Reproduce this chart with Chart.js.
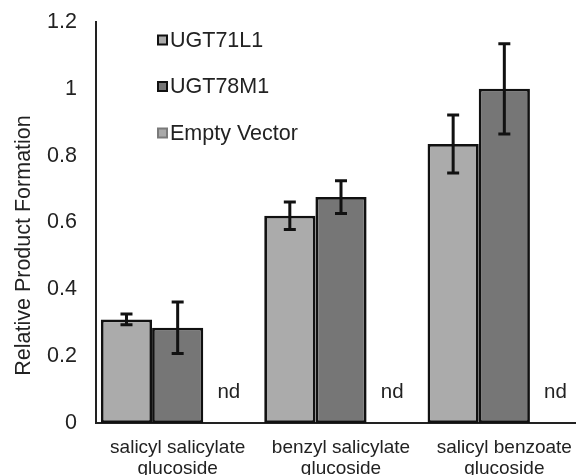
<!DOCTYPE html>
<html>
<head>
<meta charset="utf-8">
<script src="https://cdn.jsdelivr.net/npm/chart.js@4.4.1/dist/chart.umd.min.js"></script>
<style>
  html, body { margin: 0; padding: 0; background: #fff; overflow: hidden; }
  #wrap { width: 586px; height: 478px; position: relative; }
</style>
</head>
<body>
<div id="wrap"><canvas id="chart"></canvas></div>
<script>
// Chart data
const categories = [
    ['salicyl salicylate', 'glucoside'],
    ['benzyl salicylate', 'glucoside'],
    ['salicyl benzoate', 'glucoside']
];
const seriesNames = ['UGT71L1', 'UGT78M1', 'Empty Vector'];
const ugt71l1 = [0.31, 0.62, 0.835];
const ugt71l1Err = [0.016, 0.041, 0.087];
const ugt78m1 = [0.285, 0.676, 1.0];
const ugt78m1Err = [0.077, 0.049, 0.135];
const emptyVector = [0, 0, 0];
const emptyVectorNotes = ['nd', 'nd', 'nd'];
const yTitle = 'Relative Product Formation';
const yMin = 0;
const yMax = 1.2;
const yStep = 0.2;

const FONT = 'Liberation Sans, Arial, sans-serif';

// error bars drawn on top of each bar
const errorBars = {
    id: 'errorBars',
    afterDatasetsDraw(chart) {
        const ctx = chart.ctx;
        const y = chart.scales.y;
        chart.data.datasets.forEach((ds, i) => {
            if (!ds.errors) return;
            const meta = chart.getDatasetMeta(i);
            meta.data.forEach((bar, j) => {
                const v = ds.data[j];
                const e = ds.errors[j];
                const top = y.getPixelForValue(v + e);
                const bot = y.getPixelForValue(v - e);
                ctx.save();
                ctx.strokeStyle = '#111';
                ctx.lineWidth = 3;
                ctx.beginPath();
                ctx.moveTo(bar.x, top);
                ctx.lineTo(bar.x, bot);
                ctx.moveTo(bar.x - 6, top);
                ctx.lineTo(bar.x + 6, top);
                ctx.moveTo(bar.x - 6, bot);
                ctx.lineTo(bar.x + 6, bot);
                ctx.stroke();
                ctx.restore();
            });
        });
    }
};

// "nd" notes above the empty vector slots
const notes = {
    id: 'notes',
    afterDatasetsDraw(chart) {
        const ctx = chart.ctx;
        const y = chart.scales.y;
        chart.data.datasets.forEach((ds, i) => {
            if (!ds.notes) return;
            const meta = chart.getDatasetMeta(i);
            meta.data.forEach((bar, j) => {
                ctx.save();
                ctx.fillStyle = '#222';
                ctx.font = '20.5px ' + FONT;
                ctx.textAlign = 'center';
                ctx.textBaseline = 'middle';
                ctx.fillText(ds.notes[j], bar.x, y.getPixelForValue(0) - 31);
                ctx.restore();
            });
        });
    }
};

// y axis title, sits a bit below the middle of the axis like the original
const yAxisTitle = {
    id: 'yAxisTitle',
    afterDraw(chart) {
        const ctx = chart.ctx;
        const area = chart.chartArea;
        ctx.save();
        ctx.translate(24, (area.top + area.bottom) / 2 + 23);
        ctx.rotate(-Math.PI / 2);
        ctx.fillStyle = '#222';
        ctx.font = '21.5px ' + FONT;
        ctx.textAlign = 'center';
        ctx.textBaseline = 'middle';
        ctx.fillText(yTitle, 0, 0);
        ctx.restore();
    }
};

// legend placed inside the plot, top left
const insideLegend = {
    id: 'insideLegend',
    afterDraw(chart) {
        const ctx = chart.ctx;
        const area = chart.chartArea;
        const x0 = area.left + 62;
        chart.data.datasets.forEach((ds, i) => {
            const cy = area.top + 18 + i * 46.5;
            ctx.save();
            ctx.fillStyle = ds.backgroundColor;
            ctx.fillRect(x0, cy - 4.5, 9, 9);
            ctx.strokeStyle = ds.legendBorder;
            ctx.lineWidth = 2;
            ctx.strokeRect(x0, cy - 4.5, 9, 9);
            ctx.fillStyle = '#222';
            ctx.font = '21.5px ' + FONT;
            ctx.textAlign = 'left';
            ctx.textBaseline = 'middle';
            ctx.fillText(ds.label, x0 + 12, cy + 1);
            ctx.restore();
        });
    }
};

const ctx = document.getElementById('chart').getContext('2d');
new Chart(ctx, {
    type: 'bar',
    data: {
        labels: categories,
        datasets: [{
            label: seriesNames[0],
            data: ugt71l1,
            errors: ugt71l1Err,
            backgroundColor: '#ababab',
            borderColor: '#111',
            legendBorder: '#111'
        }, {
            label: seriesNames[1],
            data: ugt78m1,
            errors: ugt78m1Err,
            backgroundColor: '#767676',
            borderColor: '#111',
            legendBorder: '#111'
        }, {
            label: seriesNames[2],
            data: emptyVector,
            notes: emptyVectorNotes,
            backgroundColor: '#a9a9a9',
            borderColor: '#7a7a7a',
            legendBorder: '#7a7a7a'
        }]
    },
    options: {
        responsive: true,
        maintainAspectRatio: false,
        animation: false,
        layout: {
            padding: { left: 7, top: 22, right: 0, bottom: 0 }
        },
        datasets: {
            bar: {
                categoryPercentage: 0.94,
                barPercentage: 1.0,
                borderWidth: 2.75,
                borderSkipped: false,
                inflateAmount: 0
            }
        },
        plugins: {
            legend: { display: false },
            tooltip: { enabled: false }
        },
        scales: {
            x: {
                grid: { display: false, drawTicks: false },
                border: { display: true, color: '#222', width: 2 },
                ticks: {
                    color: '#222',
                    font: { family: FONT, size: 19, lineHeight: 1.08 },
                    padding: 15,
                    maxRotation: 0,
                    autoSkip: false
                },
                afterFit(scale) {
                    scale.height = 55;
                    scale.paddingLeft = 0;
                    scale.paddingRight = 0;
                }
            },
            y: {
                min: yMin,
                max: yMax,
                grid: { display: false, drawTicks: false },
                border: { display: true, color: '#222', width: 2 },
                ticks: {
                    stepSize: yStep,
                    color: '#222',
                    font: { family: FONT, size: 21.5 },
                    padding: 19,
                    callback: (v) => String(Number(v.toFixed(1)))
                },
                afterFit(scale) {
                    scale.width = 89;
                    scale.paddingTop = 0;
                    scale.paddingBottom = 0;
                }
            }
        }
    },
    plugins: [errorBars, notes, yAxisTitle, insideLegend]
});
</script>
</body>
</html>
